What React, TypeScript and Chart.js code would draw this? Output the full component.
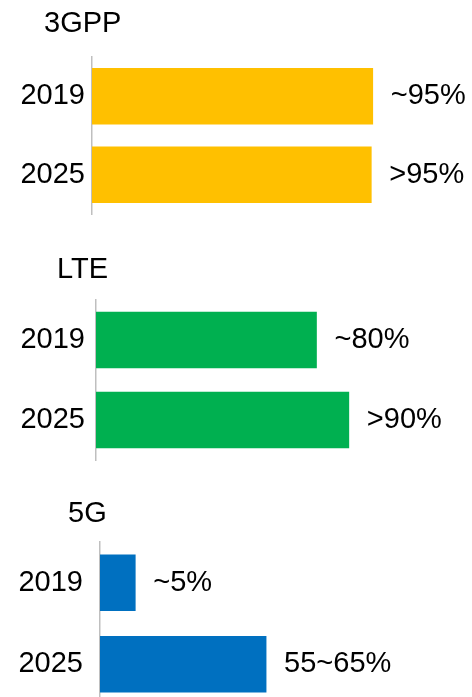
import React, { useEffect, useRef } from 'react';
import { Chart, registerables } from 'chart.js';

Chart.register(...registerables);

// ---- data ----
const groupTitles = ['3GPP', 'LTE', '5G'];
const years = ['2019', '2025'];
// bar lengths (same scale for all groups, 0..100)
const values3gpp = [95.5, 95];
const valuesLte = [75, 86];
const values5g = [12, 56.5];
const labels3gpp = ['~95%', '>95%'];
const labelsLte = ['~80%', '>90%'];
const labels5g = ['~5%', '55~65%'];

const groupValues = [values3gpp, valuesLte, values5g];
const groupLabels = [labels3gpp, labelsLte, labels5g];
const groupColors = ['#FFC000', '#00B050', '#0070C0'];

// ---- layout (styles/positions) ----
const FONT_FAMILY = '"Liberation Sans", Arial, Helvetica, sans-serif';
const FONT_SIZE = 29;
const SCALE_WIDTH = 294;
const W = 472;
const layouts = [
  { top: 0, height: 230, padTop: 57, padBottom: 16, axisX: 92, tickPad: 7, titleDx: -48, titleDy: -33, labelGap: 18 },
  { top: 230, height: 240, padTop: 70, padBottom: 10, axisX: 96, tickPad: 11, titleDx: -39, titleDy: -30, labelGap: 18 },
  { top: 470, height: 235, padTop: 72, padBottom: 0, axisX: 100, tickPad: 17, titleDx: -32, titleDy: -28, labelGap: 18 },
];

const annotatePlugin = {
  id: 'annotate',
  afterDatasetsDraw(chart: any, _args: any, opts: any) {
    const ctx = chart.ctx;
    const meta = chart.getDatasetMeta(0);
    ctx.save();
    ctx.font = `${FONT_SIZE}px ${FONT_FAMILY}`;
    ctx.fillStyle = '#000';
    ctx.textBaseline = 'middle';
    ctx.textAlign = 'left';
    meta.data.forEach((bar: any, i: number) => {
      ctx.fillText(opts.labels[i], bar.x + opts.gap, bar.y);
    });
    ctx.fillText(opts.title, chart.chartArea.left + opts.titleDx, chart.chartArea.top + opts.titleDy);
    ctx.restore();
  },
};

function GroupChart({ idx }: { idx: number }) {
  const ref = useRef<HTMLCanvasElement | null>(null);
  const L = layouts[idx];
  useEffect(() => {
    if (!ref.current) return;
    const chart = new Chart(ref.current, {
      type: 'bar',
      data: {
        labels: years,
        datasets: [
          {
            data: groupValues[idx],
            backgroundColor: groupColors[idx],
            borderWidth: 0,
            barThickness: 56,
          },
        ],
      },
      options: {
        indexAxis: 'y',
        animation: false,
        responsive: false,
        maintainAspectRatio: false,
        layout: {
          padding: {
            top: L.padTop,
            bottom: L.padBottom,
            left: 0,
            right: W - L.axisX - SCALE_WIDTH,
          },
        },
        scales: {
          x: { type: 'linear', min: 0, max: 100, display: false },
          y: {
            type: 'category',
            grid: { display: false, drawTicks: false },
            border: { display: true, color: '#bfbfbf', width: 1.5 },
            ticks: {
              color: '#000',
              padding: L.tickPad,
              font: { family: FONT_FAMILY, size: FONT_SIZE },
            },
            afterFit(scale: any) {
              scale.width = L.axisX;
              scale.paddingTop = 0;
              scale.paddingBottom = 0;
            },
          },
        },
        plugins: {
          legend: { display: false },
          tooltip: { enabled: false },
          annotate: {
            labels: groupLabels[idx],
            title: groupTitles[idx],
            titleDx: L.titleDx,
            titleDy: L.titleDy,
            gap: L.labelGap,
          },
        } as any,
      },
      plugins: [annotatePlugin],
    });
    return () => chart.destroy();
  }, [idx]);
  return (
    <div style={{ position: 'absolute', left: 0, top: L.top, width: W, height: L.height }}>
      <canvas ref={ref} width={W} height={L.height} style={{ display: 'block' }} />
    </div>
  );
}

export default function App() {
  return (
    <div style={{ position: 'absolute', left: 0, top: 0, width: W, height: 697, background: '#fff', overflow: 'hidden' }}>
      {groupTitles.map((_, i) => (
        <GroupChart key={i} idx={i} />
      ))}
    </div>
  );
}
